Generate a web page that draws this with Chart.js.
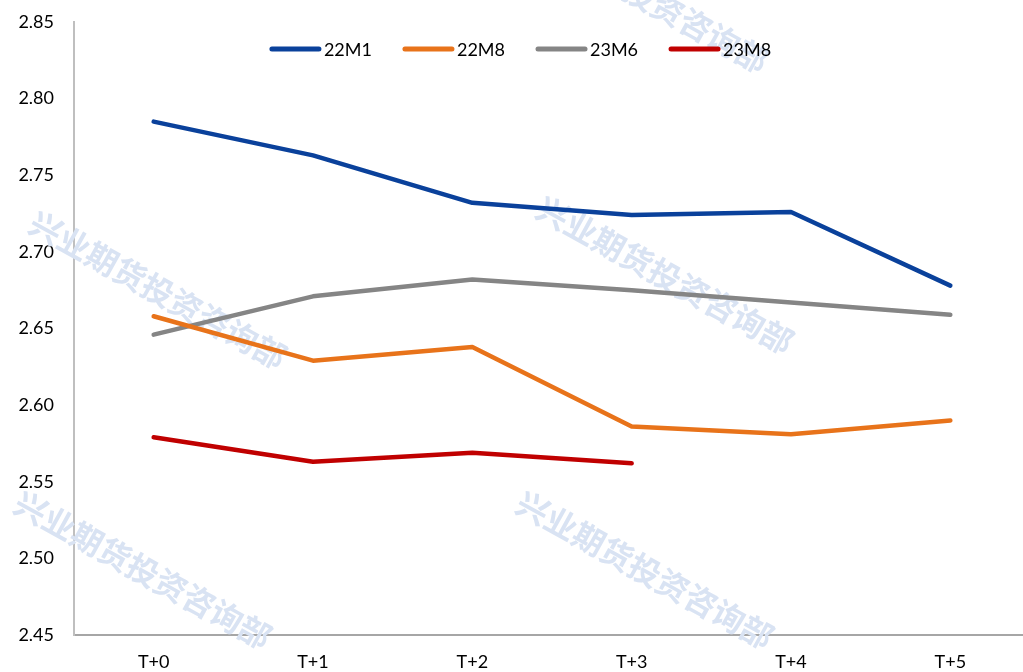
<!DOCTYPE html>
<html>
<head>
<meta charset="utf-8">
<script src="https://cdn.jsdelivr.net/npm/chart.js@4/dist/chart.umd.min.js"></script>
<style>
  html, body { margin: 0; padding: 0; background: #fff; overflow: hidden; }
  #janela { width: 1023px; height: 672px; overflow: hidden; }
  #wrap { width: 1030px; height: 672px; position: relative; }
</style>
</head>
<body>
<div id="janela"><div id="wrap"><canvas id="grafico"></canvas></div></div>
<script>
const categorias = ["T+0", "T+1", "T+2", "T+3", "T+4", "T+5"];
const serie22M1 = [2.785, 2.763, 2.732, 2.724, 2.726, 2.678];
const serie22M8 = [2.658, 2.629, 2.638, 2.586, 2.581, 2.590];
const serie23M6 = [2.646, 2.671, 2.682, 2.675, 2.667, 2.659];
const serie23M8 = [2.579, 2.563, 2.569, 2.562, null, null];
const eixoY = { min: 2.45, max: 2.85, passo: 0.05 };

const FONTE = "Lato, 'Open Sans', 'Noto Sans', sans-serif";
const MARCA = "兴业期货投资咨询部";

// marca d'água atrás das linhas
const marcaDagua = {
  id: "marcaDagua",
  beforeDatasetsDraw(chart) {
    const ctx = chart.ctx;
    const posicoes = [[640, -6], [158, 290], [665, 275], [143, 570], [645, 570]];
    ctx.save();
    ctx.fillStyle = "#d9e3f3";
    ctx.font = "bold 32px 'Noto Sans CJK SC', sans-serif";
    ctx.textAlign = "center";
    ctx.textBaseline = "middle";
    posicoes.forEach(([x, y]) => {
      ctx.save();
      ctx.translate(x, y);
      ctx.rotate(29 * Math.PI / 180);
      ctx.fillText(MARCA, 0, 0);
      ctx.restore();
    });
    ctx.restore();
  }
};

// legenda desenhada por cima do gráfico, como no original
const legendaTopo = {
  id: "legendaTopo",
  afterDatasetsDraw(chart) {
    const ctx = chart.ctx;
    const y = 49;
    const larguraLinha = 53;
    const espaco = 30;
    ctx.save();
    ctx.font = "18px " + FONTE;
    ctx.textBaseline = "middle";
    const itens = chart.data.datasets.map((d) => ({ label: d.label, cor: d.borderColor, w: ctx.measureText(d.label).width }));
    const total = itens.reduce((s, i) => s + larguraLinha + 3 + i.w, 0) + espaco * (itens.length - 1);
    let x = 522 - total / 2;
    itens.forEach((i) => {
      ctx.strokeStyle = i.cor;
      ctx.lineWidth = 5;
      ctx.lineCap = "round";
      ctx.beginPath();
      ctx.moveTo(x + 3, y);
      ctx.lineTo(x + larguraLinha - 3, y);
      ctx.stroke();
      ctx.fillStyle = "#000";
      ctx.fillText(i.label, x + larguraLinha + 2, y + 1);
      x += larguraLinha + 2 + i.w + espaco;
    });
    ctx.restore();
  }
};

const linha = (label, data, cor) => ({
  label, data, borderColor: cor, backgroundColor: cor,
  borderWidth: 4.5, pointRadius: 0, tension: 0, spanGaps: false,
  borderCapStyle: "round", borderJoinStyle: "round"
});

new Chart(document.getElementById("grafico"), {
  type: "line",
  data: {
    labels: categorias,
    datasets: [
      linha("22M1", serie22M1, "#0a419b"),
      linha("22M8", serie22M8, "#e8731a"),
      linha("23M6", serie23M6, "#858585"),
      linha("23M8", serie23M8, "#c00000")
    ]
  },
  options: {
    responsive: true,
    maintainAspectRatio: false,
    animation: false,
    layout: { padding: { top: 22, left: 0, right: 0, bottom: 0 } },
    plugins: { legend: { display: false }, tooltip: { enabled: false } },
    scales: {
      x: {
        offset: true,
        afterFit: (s) => { s.height = 37; s.paddingLeft = 0; s.paddingRight = 0; },
        grid: { display: false, drawTicks: false },
        border: { display: true, color: "#a6a6a6", width: 2 },
        ticks: { color: "#000", font: { size: 18, family: FONTE }, padding: 16 }
      },
      y: {
        min: eixoY.min, max: eixoY.max,
        afterFit: (s) => { s.width = 74; s.paddingTop = 0; s.paddingBottom = 0; },
        grid: { display: false, drawTicks: false },
        border: { display: true, color: "#bfbfbf", width: 2 },
        ticks: {
          stepSize: eixoY.passo, color: "#000", padding: 20,
          font: { size: 18, family: FONTE },
          callback: (v) => v.toFixed(2)
        }
      }
    }
  },
  plugins: [marcaDagua, legendaTopo]
});
</script>
</body>
</html>
